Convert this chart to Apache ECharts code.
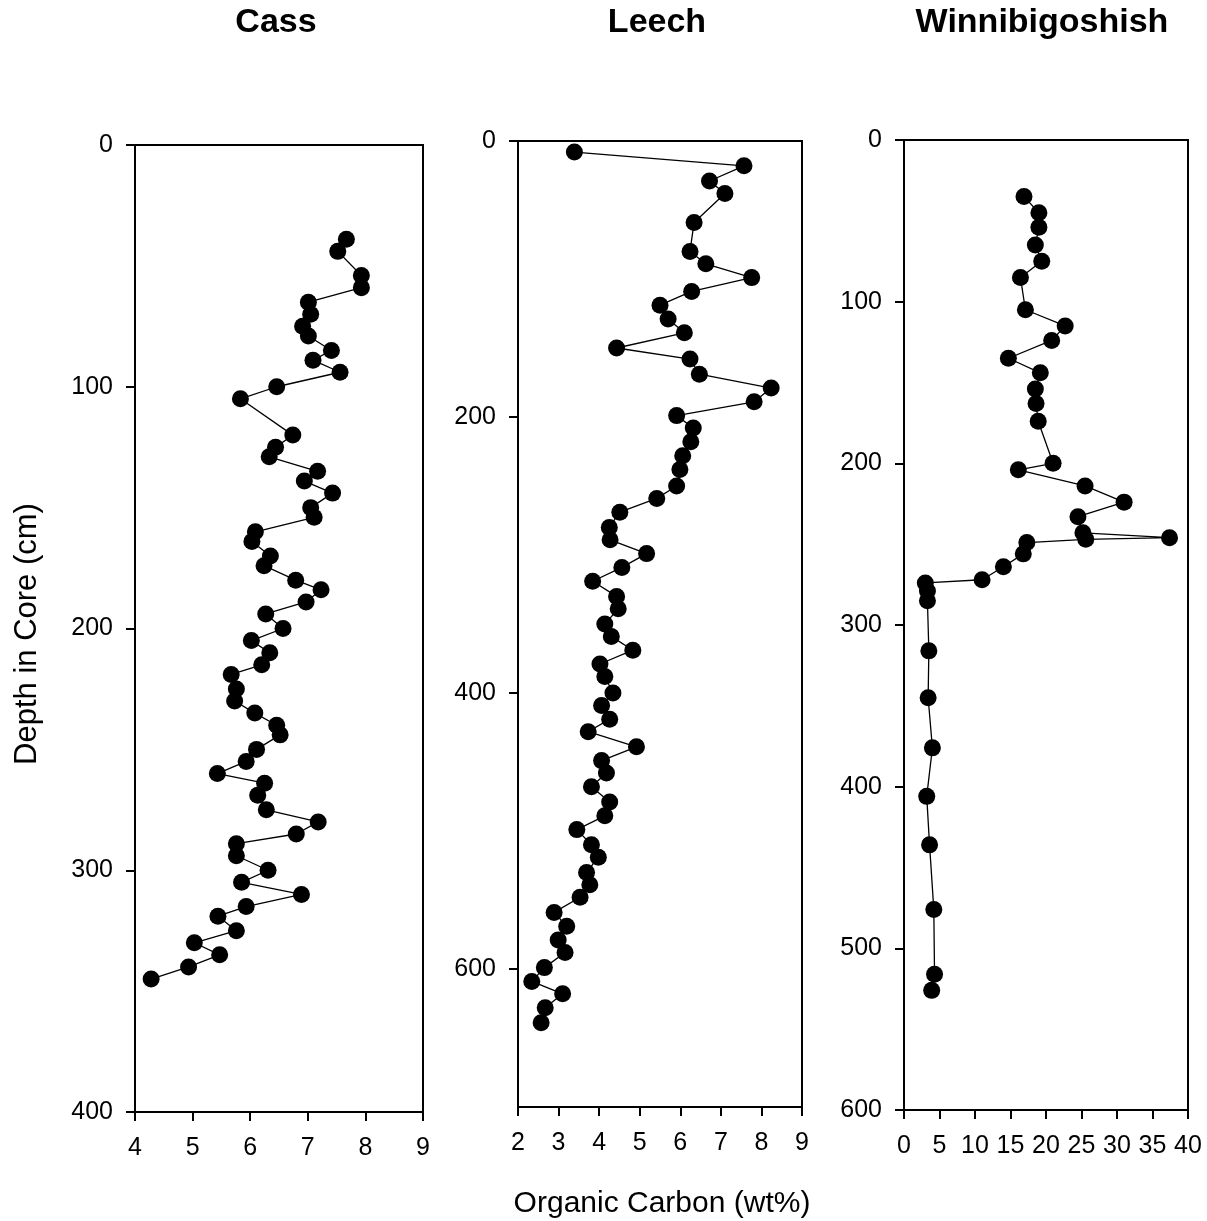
<!DOCTYPE html>
<html>
<head>
<meta charset="utf-8">
<script src="https://cdn.jsdelivr.net/npm/echarts@6/dist/echarts.min.js"></script>
<style>html,body{margin:0;padding:0;background:#fff}#c{width:1207px;height:1221px}</style>
</head>
<body>
<div id="c"></div>
<script>
// ---- Data ----
const panelTitles = ['Cass', 'Leech', 'Winnibigoshish'];

const cassCarbon = [7.67,7.52,7.93,7.93,7.01,7.05,6.91,7.01,7.41,7.09,7.56,6.46,5.83,6.74,6.44,6.33,7.17,6.94,7.43,7.05,7.11,6.09,6.03,6.35,6.24,6.79,7.23,6.97,6.27,6.57,6.02,6.34,6.20,5.67,5.76,5.73,6.08,6.46,6.52,6.11,5.93,5.43,6.25,6.13,6.28,7.18,6.80,5.76,5.76,6.31,5.85,6.89,5.93,5.44,5.76,5.03,5.47,4.93,4.28];
const cassDepth  = [39,44,54,59,65,70,75,79,85,89,94,100,105,120,125,129,135,139,144,150,154,160,164,170,174,180,184,189,194,200,205,210,215,219,225,230,235,240,244,250,255,260,264,269,275,280,285,289,294,300,305,310,315,319,325,330,335,340,345];

const leechCarbon = [3.39,7.57,6.72,7.10,6.34,6.24,6.63,7.76,6.28,5.50,5.70,6.10,4.43,6.24,6.47,8.24,7.82,5.91,6.32,6.26,6.06,5.99,5.91,5.42,4.51,4.25,4.27,5.17,4.56,3.84,4.43,4.47,4.14,4.30,4.83,4.02,4.14,4.34,4.06,4.26,3.73,4.92,4.06,4.18,3.81,4.26,4.14,3.45,3.81,3.98,3.69,3.77,3.53,2.89,3.20,2.99,3.16,2.65,2.34,3.10,2.67,2.57];
const leechDepth  = [8,18,29,38,59,80,89,99,109,119,129,139,150,158,169,179,189,199,208,218,228,238,250,259,269,280,289,299,309,319,330,339,350,359,369,379,388,400,409,419,428,439,449,458,468,479,489,499,510,519,530,539,548,559,569,579,588,599,609,618,628,639];

const winniCarbon = [16.9,19.0,19.0,18.5,19.4,16.4,17.1,22.7,20.8,14.7,19.2,18.5,18.6,18.9,21.0,16.1,25.5,31.0,24.5,25.2,37.4,25.6,17.3,16.8,14.0,11.0,3.0,3.3,3.3,3.5,3.4,4.0,3.2,3.6,4.2,4.3,3.9];
const winniDepth  = [35,45,54,65,75,85,105,115,124,135,144,154,163,174,200,204,214,224,233,243,246,247,249,256,264,272,274,279,285,316,345,376,406,436,476,516,526];

const cassXTicks = {min:4, max:9, interval:1};
const leechXTicks = {min:2, max:9, interval:1};
const winniXTicks = {min:0, max:40, interval:5};
const cassYTicks = {min:0, max:400, interval:100, showMax:true};
const leechYTicks = {min:0, max:700, interval:200, showMax:false};
const winniYTicks = {min:0, max:600, interval:100, showMax:true};

const xLabel = 'Organic Carbon (wt%)';
const yLabel = 'Depth in Core (cm)';

// ---- Chart ----
const FONT = '"Liberation Sans", Arial, sans-serif';
function zip(a, b) { return a.map((v, i) => [v, b[i]]); }

const grids = [
  {left:135, top:145, width:288, height:967},
  {left:518, top:141, width:284, height:966},
  {left:904, top:140, width:284, height:970}
].map(g => Object.assign({show:true, borderColor:'#000', borderWidth:2, backgroundColor:'transparent', containLabel:false}, g));

const axisCommon = {
  axisLine:{show:true, onZero:false, lineStyle:{color:'#000', width:2}},
  axisTick:{show:true, inside:false, length:9, lineStyle:{color:'#000', width:2}},
  splitLine:{show:false},
  axisLabel:{color:'#000', fontSize:25, fontFamily:FONT, showMinLabel:true, showMaxLabel:true, hideOverlap:false}
};

const xTicks = [cassXTicks, leechXTicks, winniXTicks];
const yTicks = [cassYTicks, leechYTicks, winniYTicks];

const xAxes = xTicks.map((t, i) => Object.assign({}, axisCommon, {
  type:'value', gridIndex:i, position:'bottom', min:t.min, max:t.max, interval:t.interval,
  axisLabel:Object.assign({}, axisCommon.axisLabel, {margin:24})
}));
const yAxes = yTicks.map((t, i) => Object.assign({}, axisCommon, {
  type:'value', gridIndex:i, position:'left', inverse:true, min:t.min, max:t.max, interval:t.interval,
  axisLabel:Object.assign({}, axisCommon.axisLabel, {margin:22, showMaxLabel:t.showMax})
}));

const seriesData = [zip(cassCarbon, cassDepth), zip(leechCarbon, leechDepth), zip(winniCarbon, winniDepth)];
const series = seriesData.map((d, i) => ({
  type:'line', xAxisIndex:i, yAxisIndex:i, data:d,
  symbol:'circle', symbolSize:17, showAllSymbol:true,
  lineStyle:{color:'#000', width:1.3},
  itemStyle:{color:'#000', borderColor:'#000', borderWidth:0},
  z:3, animation:false
}));

const titleX = [276, 657, 1042];
const graphics = panelTitles.map((t, i) => ({
  type:'text', x:titleX[i], y:6,
  style:{text:t, font:'bold 34px ' + FONT, fill:'#000', textAlign:'center', textVerticalAlign:'top'}
}));
graphics.push({
  type:'text', x:662, y:1204,
  style:{text:xLabel, font:'30px ' + FONT, fill:'#000', textAlign:'center', textVerticalAlign:'middle'}
});
graphics.push({
  type:'text', x:27, y:634, rotation:Math.PI/2,
  style:{text:yLabel, font:'31px ' + FONT, fill:'#000', textAlign:'center', textVerticalAlign:'middle'}
});

const chart = echarts.init(document.getElementById('c'), null, {renderer:'canvas'});
chart.setOption({
  animation:false,
  backgroundColor:'#fff',
  grid:grids,
  xAxis:xAxes,
  yAxis:yAxes,
  series:series,
  graphic:graphics
});
</script>
</body>
</html>
